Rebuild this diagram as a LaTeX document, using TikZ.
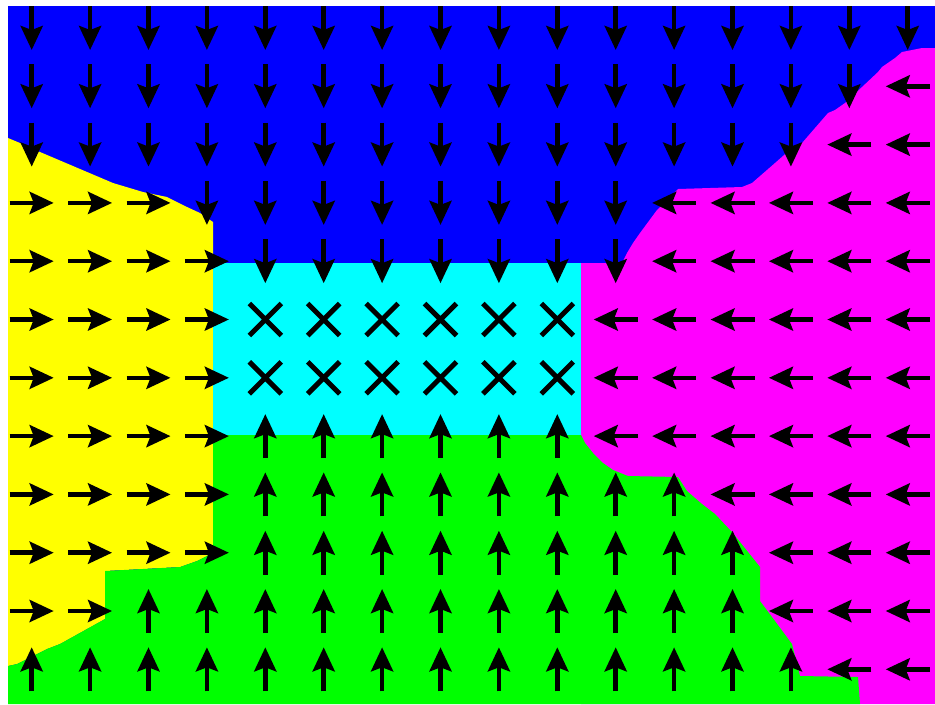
\documentclass[tikz,border=0pt]{standalone}
\usepackage{tikz}
\usetikzlibrary{arrows.meta}
\definecolor{downblue}{RGB}{0,0,255}
\definecolor{rightyellow}{RGB}{255,255,0}
\definecolor{leftmagenta}{RGB}{255,0,255}
\definecolor{upgreen}{RGB}{0,255,0}
\definecolor{staycyan}{RGB}{0,255,255}

\begin{document}
\begin{tikzpicture}[x=0.02cm, y=-0.02cm,
    act/.style={line width=0.09cm, -{Stealth[length=0.48cm, width=0.44cm, inset=0.08cm]}},
    noop/.style={line width=0.1cm}]
        \useasboundingbox (0,0) rectangle (935,704);
        % White margin and the top (down) region
        \fill[white] (0,0) rectangle (935,704);
        \fill[downblue] (8,6) rectangle (935,704);
        % Right (left-moving) region
        \fill[leftmagenta] (935,48) -- (922,48) -- (902,52) -- (895,58) -- (882,67) -- (878,72)
            -- (862,87) -- (845,103) -- (835,110) -- (828,113) -- (802,143) -- (792,148)
            -- (775,163) -- (752,183) -- (742,187) -- (678,189) -- (657,210) -- (640,233)
            -- (633,243) -- (627,253) -- (622,263) -- (581,263) -- (581,704) -- (935,704) -- cycle;
        % Left (right-moving) region
        \fill[rightyellow] (8,138) -- (20,143) -- (40,152) -- (113,183) -- (143,192) -- (167,197)
            -- (187,207) -- (200,213) -- (213,222) -- (213,552) -- (207,556) -- (197,561)
            -- (180,567) -- (105,571) -- (105,619) -- (60,644) -- (47,649) -- (17,664)
            -- (8,666) -- cycle;
        % Bottom (up-moving) region
        \fill[upgreen] (8,666) -- (17,664) -- (47,649) -- (60,644) -- (105,619) -- (105,571)
            -- (180,567) -- (197,561) -- (207,556) -- (213,552) -- (213,435) -- (581,435)
            -- (585,443) -- (593,453) -- (603,463) -- (613,470) -- (628,476) -- (678,477)
            -- (687,491) -- (702,504) -- (715,514) -- (732,532) -- (760,567) -- (760,601)
            -- (772,617) -- (792,644) -- (800,676) -- (858,677) -- (860,704) -- (8,704) -- cycle;
        % Middle (stay) region
        \fill[staycyan] (213,263) rectangle (581,435);
        % One action per grid cell: d, u, l, r or x (stay)
        \foreach \acts [count=\row from 0] in {
            {d,d,d,d,d,d,d,d,d,d,d,d,d,d,d,d},
            {d,d,d,d,d,d,d,d,d,d,d,d,d,d,d,l},
            {d,d,d,d,d,d,d,d,d,d,d,d,d,d,l,l},
            {r,r,r,d,d,d,d,d,d,d,d,l,l,l,l,l},
            {r,r,r,r,d,d,d,d,d,d,d,l,l,l,l,l},
            {r,r,r,r,x,x,x,x,x,x,l,l,l,l,l,l},
            {r,r,r,r,x,x,x,x,x,x,l,l,l,l,l,l},
            {r,r,r,r,u,u,u,u,u,u,l,l,l,l,l,l},
            {r,r,r,r,u,u,u,u,u,u,u,u,l,l,l,l},
            {r,r,r,r,u,u,u,u,u,u,u,u,u,l,l,l},
            {r,r,u,u,u,u,u,u,u,u,u,u,u,l,l,l},
            {u,u,u,u,u,u,u,u,u,u,u,u,u,u,l,l}} {
            \foreach \a [count=\col from 0] in \acts {
                % Compute the cell centre
                \pgfmathsetmacro{\cx}{31.7+58.4*\col}
                \pgfmathsetmacro{\cy}{28+58.3*\row}
                \if\a x
                    \draw[noop] (\cx-16,\cy-16) -- (\cx+16,\cy+16) (\cx-16,\cy+16) -- (\cx+16,\cy-16);
                \fi
                \if\a r \draw[act] (\cx-22,\cy) -- (\cx+22,\cy); \fi
                \if\a l \draw[act] (\cx+22,\cy) -- (\cx-22,\cy); \fi
                \if\a d \draw[act] (\cx,\cy-22) -- (\cx,\cy+22); \fi
                \if\a u \draw[act] (\cx,\cy+22) -- (\cx,\cy-22); \fi
              }
          }
      \end{tikzpicture}
\end{document}
